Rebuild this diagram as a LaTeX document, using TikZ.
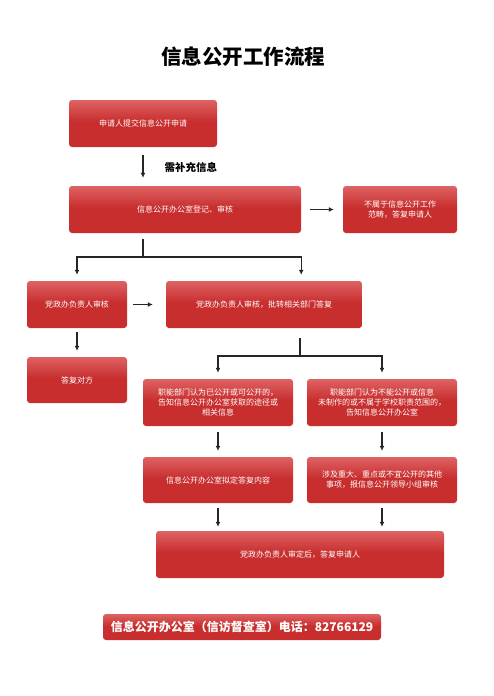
\documentclass[tikz,border=0pt]{standalone}
\usepackage{fontspec}
\usepackage{tikz}
\usetikzlibrary{arrows.meta}
\setmainfont{Noto Sans CJK SC}
\definecolor{redtop}{RGB}{242,146,150}
\definecolor{redmid}{RGB}{200,46,46}
\definecolor{redlow}{RGB}{162,42,40}
\pgfdeclareverticalshading{redfig}{100bp}{color(0bp)=(redlow); color(25bp)=(redmid); color(52bp)=(redmid); color(96bp)=(redtop); color(100bp)=(redtop)}

\begin{document}
\begin{tikzpicture}[x=1pt, y=-1pt,
    box/.style={rounded corners=3pt, shading=redfig, text=white, align=center,
      inner sep=0pt, font=\fontsize{8}{10}\selectfont},
    link/.style={line width=1.3pt, black!85},
    arr/.style={link, -{Latex[length=5pt,width=5pt]}}]
  \useasboundingbox[fill=white] (0,0) rectangle (494,696);

  \node[font=\fontsize{20.5}{21}\bfseries\selectfont] (title) at (243,57) {信息公开工作流程};

  \node[box, minimum width=148, minimum height=47] (apply) at (143,123.5) {申请人提交信息公开申请};
  \node[box, minimum width=232, minimum height=47] (register) at (185,209.5) {信息公开办公室登记、审核};
  \node[box, minimum width=114, minimum height=47] (outscope) at (400,209.5) {不属于信息公开工作\\范畴，答复申请人};
  \node[box, minimum width=100, minimum height=47] (leader) at (77,304.5) {党政办负责人审核};
  \node[box, minimum width=196, minimum height=47] (transfer) at (264,304.5) {党政办负责人审核，批转相关部门答复};
  \node[box, minimum width=100, minimum height=46] (reply) at (77,380) {答复对方};
  \node[box, minimum width=150, minimum height=47] (known) at (218,402.5) {职能部门认为已公开或可公开的，\\告知信息公开办公室获取的途径或\\相关信息};
  \node[box, minimum width=150, minimum height=47] (unknown) at (382,402.5) {职能部门认为不能公开或信息\\未制作的或不属于学校职责范围的，\\告知信息公开办公室};
  \node[box, minimum width=150, minimum height=46] (draft) at (218,480) {信息公开办公室拟定答复内容};
  \node[box, minimum width=150, minimum height=46] (major) at (382,480) {涉及重大、重点或不宜公开的其他\\事项，报信息公开领导小组审核};
  \node[box, minimum width=288, minimum height=47] (final) at (300,554.5) {党政办负责人审定后，答复申请人};
  \node[box, minimum width=278, minimum height=26, font=\fontsize{12}{12}\bfseries\selectfont] (phone) at (242,627) {信息公开办公室（信访督查室）电话：82766129};

  \draw[arr, shorten <=8pt, shorten >=8pt] (apply.south) -- (apply.south |- register.north);
  \node[anchor=west, font=\fontsize{10.5}{11}\bfseries\selectfont] (hint) at (161,167) {需补充信息};
  \draw[arr, shorten <=9pt, shorten >=9pt] (register.east) -- (outscope.west);

  % first split
  \coordinate (split1) at (143,257);
  \draw[link] ([yshift=-6pt]register.south -| split1) -- (split1);
  \draw[arr] (split1) -| ([yshift=6pt]leader.north);
  \draw[arr] (split1) -| ([yshift=6pt]transfer.north -| register.east);

  \draw[arr, shorten <=6pt, shorten >=13pt] (leader.east) -- (transfer.west);
  \draw[arr, shorten <=4pt, shorten >=6pt] (leader.south) -- (reply.north);

  % second split
  \coordinate (split2) at (300,356);
  \draw[link] ([yshift=-10pt]transfer.south -| split2) -- (split2);
  \draw[arr] (split2) -| ([yshift=6pt]known.north);
  \draw[arr] (split2) -| ([yshift=6pt]unknown.north);

  \draw[arr, shorten <=6pt, shorten >=6pt] (known.south) -- (draft.north);
  \draw[arr, shorten <=6pt, shorten >=6pt] (unknown.south) -- (major.north);
  \draw[arr, shorten <=5pt, shorten >=4pt] (draft.south) -- (draft.south |- final.north);
  \draw[arr, shorten <=5pt, shorten >=4pt] (major.south) -- (major.south |- final.north);
\end{tikzpicture}
\end{document}
